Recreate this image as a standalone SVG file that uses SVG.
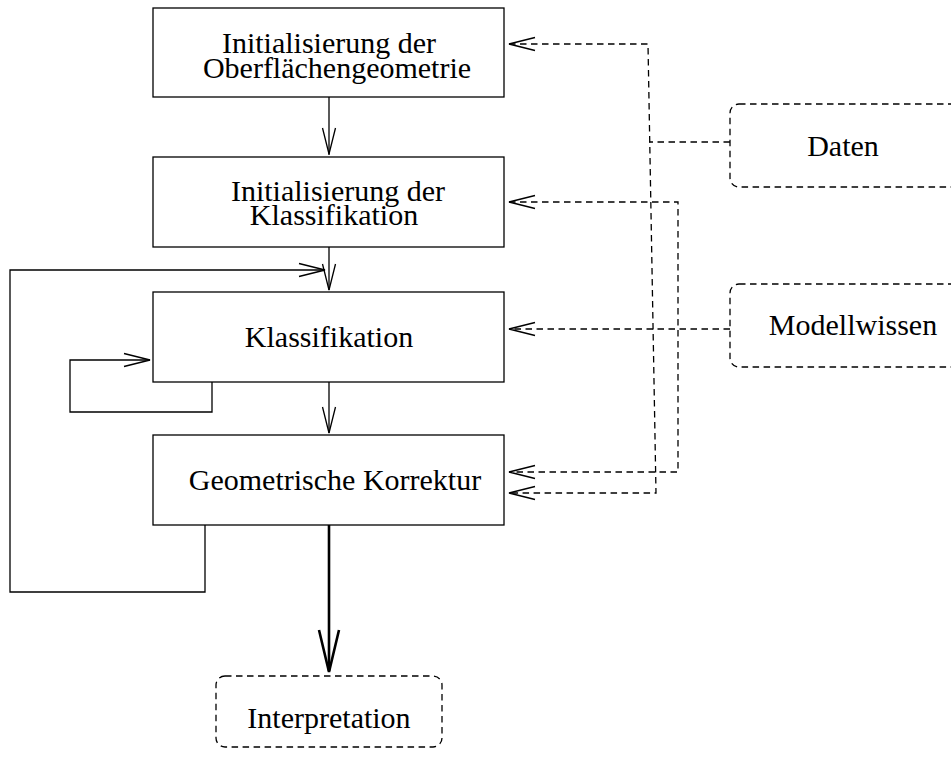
<svg xmlns="http://www.w3.org/2000/svg" width="951" height="758" viewBox="0 0 951 758">
<style>
.box{fill:#fff;stroke:#000;stroke-width:1.3}
.dbox{fill:none;stroke:#000;stroke-width:1.3;stroke-dasharray:6.5 4.5}
.t{font-family:"Liberation Serif","Times New Roman",serif;font-size:30px;fill:#000;text-anchor:middle}
.ln{fill:none;stroke:#000;stroke-width:1.3}
.dl{fill:none;stroke:#000;stroke-width:1.3;stroke-dasharray:6.5 4.5}
.thick{fill:none;stroke:#000;stroke-width:2.6}
</style>
<rect width="951" height="758" fill="#fff"/>
<g id="connectors">
  <line class="ln" x1="329" y1="97" x2="329" y2="155"/>
  <polyline class="ln" points="322.5,128 329,154 335.5,128"/>
  <line class="ln" x1="329" y1="247" x2="329" y2="290"/>
  <polyline class="ln" points="322.5,264 329,290 335.5,264"/>
  <line class="ln" x1="329" y1="382" x2="329" y2="433"/>
  <polyline class="ln" points="322.5,407 329,433 335.5,407"/>
  <polyline class="ln" points="212,382 212,412 70,412 70,360 150,360"/>
  <polyline class="ln" points="124,353.5 150,360 124,366.5"/>
  <polyline class="ln" points="205,525 205,592 10,592 10,270 325,270"/>
  <polyline class="ln" points="299,263.5 325,270 299,276.5"/>
  <line class="thick" x1="329" y1="525" x2="329" y2="671"/>
  <polyline class="thick" points="319,630 329,672 339,630"/>
  <polyline class="dl" points="730,142 649,142"/>
  <polyline class="dl" points="509,44 648,44 656,493 509,493"/>
  <polyline class="dl" points="509,202 678,202 678,472 509,472"/>
  <line class="dl" x1="730" y1="329" x2="509" y2="329"/>
  <polyline class="ln" points="535,37.5 509,44 535,50.5"/>
  <polyline class="ln" points="535,195.5 509,202 535,208.5"/>
  <polyline class="ln" points="535,322.5 509,329 535,335.5"/>
  <polyline class="ln" points="535,465.5 509,472 535,478.5"/>
  <polyline class="ln" points="535,486.5 509,493 535,499.5"/>
</g>
<g id="node-init-geo">
  <rect class="box" x="153" y="8" width="351" height="89"/>
  <text class="t" x="329" y="53">Initialisierung der</text>
  <text class="t" x="337" y="78">Oberflächengeometrie</text>
</g>
<g id="node-init-klass">
  <rect class="box" x="153" y="157" width="351" height="90"/>
  <text class="t" x="338" y="201">Initialisierung der</text>
  <text class="t" x="334" y="225">Klassifikation</text>
</g>
<g id="node-klass">
  <rect class="box" x="153" y="292" width="351" height="90"/>
  <text class="t" x="329" y="347">Klassifikation</text>
</g>
<g id="node-geo-korr">
  <rect class="box" x="153" y="435" width="351" height="90"/>
  <text class="t" x="335" y="490">Geometrische Korrektur</text>
</g>
<g id="node-interpretation">
  <rect class="dbox" x="216" y="676" width="226" height="71" rx="9" ry="9"/>
  <text class="t" x="329" y="728">Interpretation</text>
</g>
<g id="node-daten">
  <rect class="dbox" x="730" y="104" width="240" height="83" rx="9" ry="9"/>
  <text class="t" x="843" y="156">Daten</text>
</g>
<g id="node-modellwissen">
  <rect class="dbox" x="730" y="284" width="240" height="83" rx="9" ry="9"/>
  <text class="t" x="853" y="335">Modellwissen</text>
</g>
</svg>
